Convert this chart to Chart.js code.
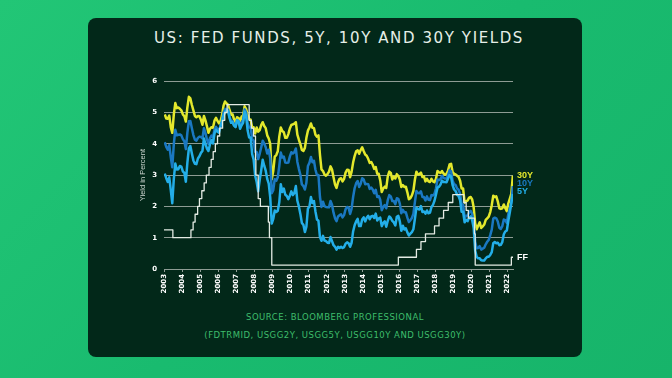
<!DOCTYPE html>
<html>
<head>
<meta charset="utf-8">
<script src="https://cdn.jsdelivr.net/npm/chart.js@4/dist/chart.umd.min.js"></script>
<style>
  html, body { margin: 0; padding: 0; }
  body {
    width: 672px; height: 378px; overflow: hidden; position: relative;
    background: linear-gradient(135deg, #22c676 0%, #19bb6f 50%, #17b46a 100%);
    font-family: "DejaVu Sans", sans-serif;
  }
  .card {
    position: absolute; left: 88px; top: 18px; width: 494px; height: 339px;
    background: #022819; border-radius: 8px;
  }
  .title {
    position: absolute; left: 4px; top: 11px; width: 100%; text-align: center;
    color: #e6efe8; font-size: 15px; letter-spacing: 1.6px; line-height: 18px;
  }
  .chartBox { position: absolute; left: 0; top: 52px; width: 494px; height: 235px; }
  .source {
    position: absolute; left: 0; width: 100%; text-align: center;
    color: #3fbe6c; font-size: 8.5px; letter-spacing: 0.5px;
  }
</style>
</head>
<body>
<div class="card">
  <div class="title">US: FED FUNDS, 5Y, 10Y AND 30Y YIELDS</div>
  <div class="chartBox"><canvas id="yieldChart"></canvas></div>
  <div class="source" style="top:294px">SOURCE: BLOOMBERG PROFESSIONAL</div>
  <div class="source" style="top:312px">(FDTRMID, USGG2Y, USGG5Y, USGG10Y AND USGG30Y)</div>
</div>
<script>
// monthly values, Jan 2003 .. Apr 2022
const startYear = 2003;
const years = [2003, 2004, 2005, 2006, 2007, 2008, 2009, 2010, 2011, 2012, 2013,
  2014, 2015, 2016, 2017, 2018, 2019, 2020, 2021, 2022];
const yValues = [0, 1, 2, 3, 4, 5, 6];

const yields5y = [
  3.05, 2.90, 2.78, 2.93, 2.52, 2.10, 2.87, 3.37, 3.18, 3.19, 3.29, 3.27,
  3.12, 3.07, 2.79, 3.39, 3.85, 3.93, 3.69, 3.47, 3.36, 3.35, 3.53, 3.60,
  3.71, 3.77, 4.17, 4.00, 3.85, 3.77, 3.98, 4.12, 4.01, 4.33, 4.45, 4.39,
  4.35, 4.57, 4.72, 4.90, 5.00, 5.07, 5.04, 4.82, 4.67, 4.69, 4.58, 4.53,
  4.75, 4.71, 4.48, 4.59, 4.67, 5.03, 4.88, 4.43, 4.20, 4.20, 3.67, 3.49,
  2.98, 2.78, 2.48, 2.84, 3.15, 3.49, 3.30, 3.14, 2.88, 2.73, 2.29, 1.45,
  1.60, 1.87, 1.82, 1.86, 2.13, 2.71, 2.46, 2.57, 2.37, 2.33, 2.23, 2.34,
  2.48, 2.36, 2.43, 2.65, 2.18, 2.00, 1.76, 1.47, 1.41, 1.18, 1.35, 1.93,
  1.99, 2.30, 2.11, 2.17, 1.84, 1.58, 1.54, 1.02, 0.90, 1.06, 0.91, 0.89,
  0.84, 0.83, 1.02, 0.89, 0.76, 0.71, 0.62, 0.71, 0.67, 0.71, 0.67, 0.70,
  0.81, 0.85, 0.82, 0.71, 0.84, 1.20, 1.40, 1.52, 1.60, 1.37, 1.37, 1.58,
  1.65, 1.52, 1.64, 1.70, 1.59, 1.68, 1.70, 1.63, 1.77, 1.55, 1.62, 1.64,
  1.37, 1.47, 1.52, 1.35, 1.54, 1.68, 1.63, 1.54, 1.49, 1.39, 1.67, 1.70,
  1.52, 1.22, 1.38, 1.26, 1.30, 1.17, 1.07, 1.13, 1.18, 1.27, 1.60, 1.96,
  1.92, 1.90, 2.01, 1.82, 1.84, 1.77, 1.87, 1.78, 1.80, 1.98, 2.05, 2.18,
  2.38, 2.60, 2.63, 2.70, 2.82, 2.78, 2.78, 2.77, 2.89, 3.00, 2.95, 2.68,
  2.54, 2.49, 2.37, 2.33, 2.19, 1.83, 1.83, 1.49, 1.57, 1.53, 1.64, 1.68,
  1.56, 1.32, 0.59, 0.39, 0.34, 0.34, 0.28, 0.27, 0.27, 0.34, 0.39, 0.39,
  0.45, 0.54, 0.82, 0.86, 0.82, 0.84, 0.76, 0.77, 0.86, 1.11, 1.20, 1.23,
  1.54, 1.81, 2.11, 2.40
];

const yields10y = [
  4.05, 3.90, 3.81, 3.96, 3.57, 3.25, 3.98, 4.45, 4.27, 4.29, 4.30, 4.27,
  4.15, 4.08, 3.83, 4.35, 4.72, 4.73, 4.50, 4.28, 4.13, 4.10, 4.19, 4.23,
  4.22, 4.17, 4.50, 4.34, 4.14, 4.00, 4.18, 4.26, 4.20, 4.46, 4.54, 4.47,
  4.42, 4.57, 4.72, 4.99, 5.11, 5.11, 5.09, 4.88, 4.72, 4.73, 4.60, 4.56,
  4.76, 4.72, 4.56, 4.69, 4.75, 5.10, 5.00, 4.67, 4.52, 4.53, 4.15, 4.10,
  3.74, 3.74, 3.51, 3.68, 3.88, 4.10, 4.01, 3.89, 3.69, 3.81, 3.53, 2.42,
  2.52, 2.87, 2.82, 2.93, 3.29, 3.72, 3.56, 3.59, 3.40, 3.39, 3.40, 3.59,
  3.73, 3.69, 3.73, 3.85, 3.42, 3.20, 3.01, 2.70, 2.65, 2.54, 2.76, 3.29,
  3.39, 3.58, 3.41, 3.46, 3.17, 3.00, 3.00, 2.30, 1.98, 2.15, 2.01, 1.98,
  1.97, 1.97, 2.17, 2.05, 1.80, 1.62, 1.53, 1.68, 1.72, 1.75, 1.65, 1.72,
  1.91, 1.98, 1.96, 1.76, 1.93, 2.30, 2.58, 2.74, 2.81, 2.62, 2.72, 2.90,
  2.86, 2.71, 2.72, 2.71, 2.56, 2.60, 2.54, 2.42, 2.53, 2.30, 2.33, 2.21,
  1.88, 1.98, 2.04, 1.94, 2.20, 2.36, 2.32, 2.17, 2.17, 2.07, 2.26, 2.24,
  2.09, 1.78, 1.89, 1.81, 1.81, 1.64, 1.50, 1.56, 1.63, 1.76, 2.14, 2.49,
  2.43, 2.42, 2.48, 2.30, 2.30, 2.19, 2.32, 2.21, 2.20, 2.36, 2.35, 2.40,
  2.58, 2.86, 2.84, 2.87, 2.98, 2.91, 2.89, 2.89, 3.00, 3.15, 3.12, 2.83,
  2.71, 2.68, 2.57, 2.53, 2.40, 2.07, 2.06, 1.63, 1.70, 1.71, 1.81, 1.86,
  1.76, 1.50, 0.87, 0.66, 0.67, 0.73, 0.62, 0.65, 0.68, 0.79, 0.87, 0.93,
  1.08, 1.26, 1.61, 1.64, 1.62, 1.52, 1.32, 1.28, 1.37, 1.58, 1.56, 1.47,
  1.76, 1.93, 2.13, 2.65
];

const yields30y = [
  4.94, 4.81, 4.80, 4.90, 4.53, 4.35, 4.93, 5.30, 5.14, 5.16, 5.12, 5.07,
  4.94, 4.88, 4.71, 5.16, 5.50, 5.45, 5.24, 5.07, 4.89, 4.85, 4.89, 4.88,
  4.77, 4.61, 4.89, 4.75, 4.56, 4.35, 4.48, 4.53, 4.51, 4.74, 4.83, 4.73,
  4.65, 4.73, 4.91, 5.22, 5.35, 5.29, 5.25, 5.08, 4.93, 4.94, 4.78, 4.68,
  4.85, 4.82, 4.72, 4.87, 4.90, 5.20, 5.11, 4.93, 4.79, 4.77, 4.52, 4.53,
  4.33, 4.52, 4.39, 4.44, 4.60, 4.69, 4.57, 4.50, 4.27, 4.17, 4.00, 2.87,
  3.13, 3.59, 3.64, 3.76, 4.23, 4.52, 4.41, 4.37, 4.19, 4.19, 4.31, 4.49,
  4.60, 4.62, 4.64, 4.69, 4.29, 4.13, 3.99, 3.80, 3.77, 3.87, 4.19, 4.42,
  4.52, 4.65, 4.51, 4.50, 4.29, 4.23, 4.27, 3.65, 3.18, 3.13, 3.02, 2.98,
  3.03, 3.11, 3.28, 3.18, 2.93, 2.70, 2.59, 2.77, 2.88, 2.90, 2.80, 2.88,
  3.08, 3.17, 3.16, 2.93, 3.11, 3.40, 3.61, 3.76, 3.79, 3.68, 3.80, 3.89,
  3.77, 3.66, 3.62, 3.52, 3.39, 3.42, 3.33, 3.20, 3.26, 3.04, 3.04, 2.83,
  2.46, 2.57, 2.63, 2.59, 2.96, 3.11, 3.07, 2.86, 2.95, 2.89, 3.03, 2.97,
  2.86, 2.62, 2.68, 2.62, 2.63, 2.45, 2.23, 2.26, 2.35, 2.50, 2.86, 3.11,
  3.02, 3.03, 3.08, 2.94, 2.96, 2.80, 2.88, 2.80, 2.78, 2.88, 2.80, 2.77,
  2.88, 3.13, 3.09, 3.07, 3.13, 3.05, 3.01, 3.04, 3.15, 3.34, 3.36, 3.10,
  3.04, 3.02, 2.98, 2.94, 2.82, 2.57, 2.57, 2.12, 2.16, 2.19, 2.28, 2.30,
  2.22, 1.97, 1.46, 1.27, 1.38, 1.49, 1.31, 1.36, 1.42, 1.57, 1.62, 1.67,
  1.82, 2.04, 2.34, 2.30, 2.32, 2.16, 1.94, 1.92, 1.94, 2.06, 1.94, 1.85,
  2.10, 2.25, 2.41, 2.98
];

// fed funds target (mid), change dates as decimal years
const ffDates = [2003.0, 2003.49, 2004.49, 2004.61, 2004.72, 2004.86, 2004.96,
  2005.09, 2005.22, 2005.34, 2005.49, 2005.61, 2005.72, 2005.84, 2005.96,
  2006.08, 2006.24, 2006.36, 2006.49, 2007.71, 2007.83, 2007.95, 2008.06,
  2008.08, 2008.21, 2008.33, 2008.77, 2008.83, 2008.96, 2015.96, 2016.96,
  2017.21, 2017.46, 2017.96, 2018.21, 2018.46, 2018.72, 2018.97, 2019.58,
  2019.71, 2019.83, 2020.17, 2020.21, 2022.21, 2022.3];
const ffRates = [1.25, 1.0, 1.25, 1.5, 1.75, 2.0, 2.25,
  2.5, 2.75, 3.0, 3.25, 3.5, 3.75, 4.0, 4.25,
  4.5, 4.75, 5.0, 5.25, 4.75, 4.5, 4.25, 3.5,
  3.0, 2.25, 2.0, 1.5, 1.0, 0.125, 0.375, 0.625,
  0.875, 1.125, 1.375, 1.625, 1.875, 2.125, 2.375, 2.125,
  1.875, 1.625, 1.125, 0.125, 0.375, 0.375];

const seriesNames = ['FF', '5Y', '10Y', '30Y'];
const seriesColors = ['#e4ebe4', '#23aee8', '#1a78c2', '#e3e82c'];

function monthly(values) {
  return values.map((v, i) => ({ x: startYear + (i + 0.5) / 12, y: v }));
}

const gridColor = '#8e9c94';

// series labels at right end of lines
const endLabels = {
  id: 'endLabels',
  afterDatasetsDraw(chart) {
    const ctx = chart.ctx;
    const ys = chart.scales.y;
    const x = chart.chartArea.right + 4;
    ctx.save();
    ctx.font = 'bold 9px "Liberation Sans", sans-serif';
    ctx.textBaseline = 'middle';
    ctx.textAlign = 'left';
    const y30 = ys.getPixelForValue(yields30y[yields30y.length - 1]);
    ctx.fillStyle = seriesColors[3];
    ctx.fillText('30Y', x, y30);
    ctx.fillStyle = seriesColors[2];
    ctx.fillText('10Y', x, y30 + 8);
    ctx.fillStyle = seriesColors[1];
    ctx.fillText('5Y', x, y30 + 16);
    ctx.fillStyle = '#ffffff';
    ctx.fillText('FF', x, ys.getPixelForValue(ffRates[ffRates.length - 1]));
    ctx.restore();
  }
};

const ctx = document.getElementById('yieldChart').getContext('2d');
new Chart(ctx, {
  type: 'line',
  data: {
    datasets: [
      {
        label: seriesNames[0],
        data: ffDates.map((d, i) => ({ x: d, y: ffRates[i] })),
        borderColor: seriesColors[0],
        borderWidth: 1.3,
        stepped: 'before'
      },
      { label: seriesNames[1], data: monthly(yields5y), borderColor: seriesColors[1], borderWidth: 2.5 },
      { label: seriesNames[2], data: monthly(yields10y), borderColor: seriesColors[2], borderWidth: 2.5 },
      { label: seriesNames[3], data: monthly(yields30y), borderColor: seriesColors[3], borderWidth: 2.5 }
    ]
  },
  options: {
    responsive: true,
    maintainAspectRatio: false,
    animation: false,
    layout: { padding: { left: 48, right: 69, top: 10, bottom: 0 } },
    elements: {
      point: { radius: 0 },
      line: { tension: 0, borderJoinStyle: 'round' }
    },
    plugins: {
      legend: { display: false },
      tooltip: { enabled: false }
    },
    scales: {
      x: {
        type: 'linear',
        min: 2003,
        max: 2022.3,
        afterBuildTicks: scale => { scale.ticks = years.map(v => ({ value: v })); },
        afterFit: scale => { scale.height = 36; },
        grid: { drawOnChartArea: false, drawTicks: true, tickLength: 3, color: gridColor },
        border: { display: true, color: gridColor, width: 1 },
        ticks: {
          autoSkip: false,
          minRotation: 90,
          maxRotation: 90,
          padding: 2,
          color: '#ffffff',
          font: { family: 'DejaVu Sans', size: 7, weight: 'bold' },
          callback: v => String(v)
        }
      },
      y: {
        min: 0,
        max: 6,
        afterBuildTicks: scale => { scale.ticks = yValues.map(v => ({ value: v })); },
        afterFit: scale => { scale.width = 28; },
        grid: { color: gridColor, lineWidth: 1, drawTicks: false },
        border: { display: false },
        ticks: {
          padding: 7,
          color: '#ffffff',
          font: { family: 'DejaVu Sans', size: 7, weight: 'bold' }
        },
        title: {
          display: true,
          text: 'Yield in Percent',
          color: '#d0d8d2',
          padding: { top: 2, bottom: 0 },
          font: { family: 'Liberation Sans', size: 7.5 }
        }
      }
    }
  },
  plugins: [endLabels]
});
</script>
</body>
</html>
